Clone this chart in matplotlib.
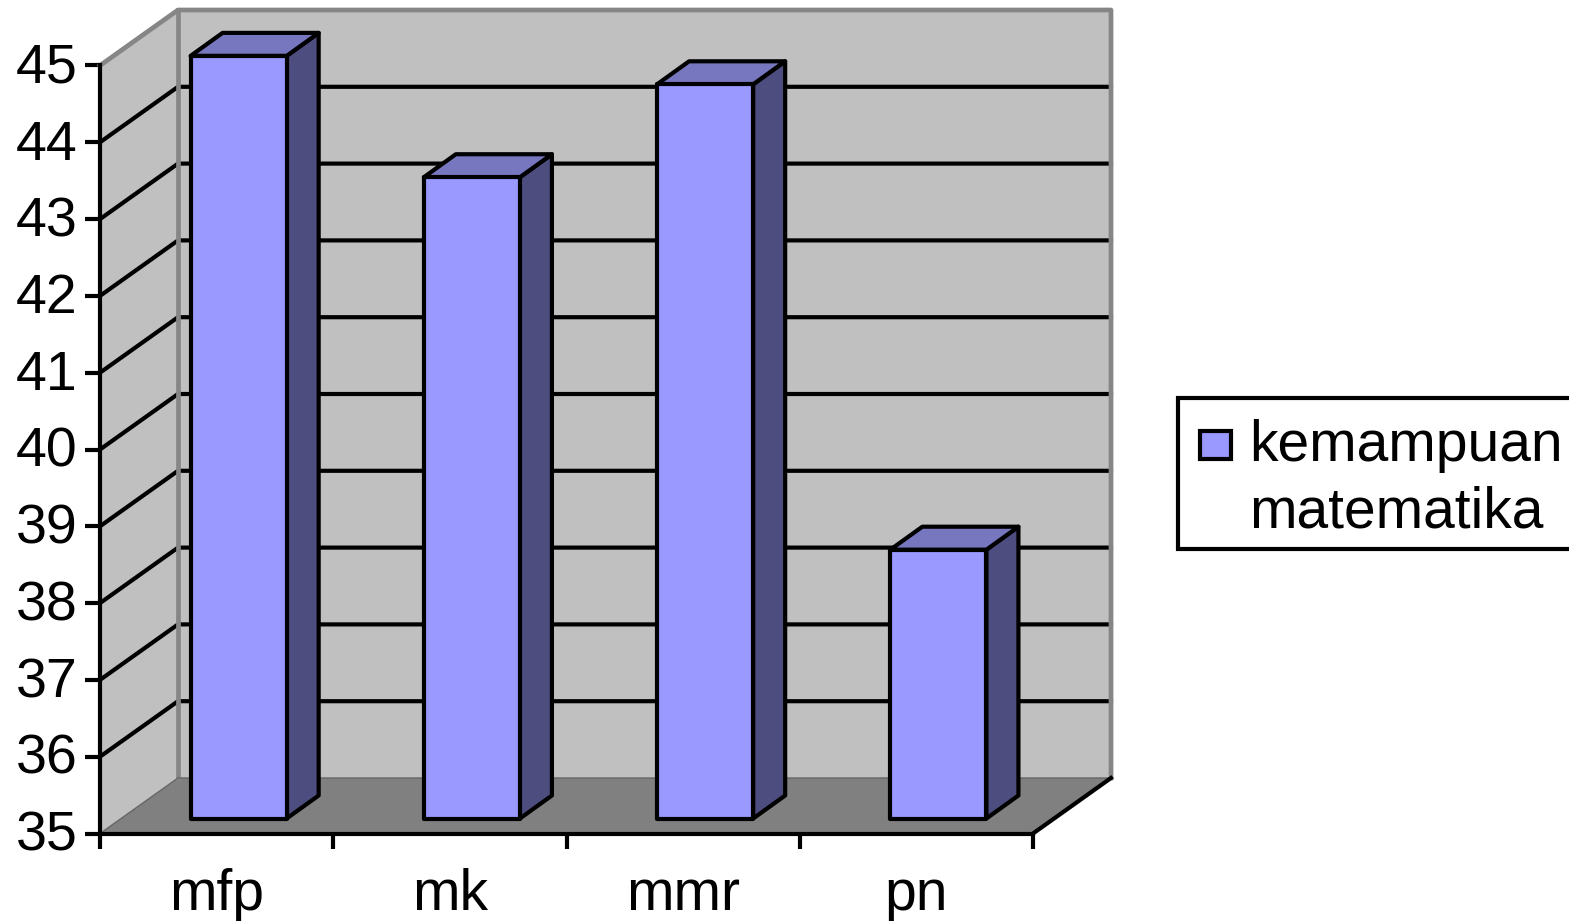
import matplotlib
matplotlib.use("Agg")
import matplotlib.pyplot as plt
from matplotlib.patches import Polygon, Rectangle
from matplotlib.transforms import Affine2D, ScaledTranslation

categories = ["mfp", "mk", "mmr", "pn"]
values = [44.93, 43.35, 44.56, 38.5]
y_ticks = list(range(35, 46))
legend_lines = ["kemampuan", "matematika"]

FRONT, SIDE, TOP = "#9999FF", "#4D4D80", "#7777BF"
WALL, FLOOR, EDGE = "#C0C0C0", "#808080", "#868686"
LW = 3.0
W, H = 1569, 921

plt.rcParams["font.family"] = ["Liberation Sans", "DejaVu Sans"]
fig = plt.figure(figsize=(W / 100, H / 100), dpi=100)
ax = fig.add_axes([100 / W, (H - 833.5) / H, 933 / W, 768 / H])
ax.set_xlim(0, len(categories))
ax.set_ylim(y_ticks[0], y_ticks[-1])

# pixel-to-data scales for the oblique depth of the 3D look
px_x = len(categories) / 933
px_y = (y_ticks[-1] - y_ticks[0]) / 768
wall_dx, wall_dy = 78 * px_x, 55.5 * px_y
bar_dx, bar_dy = 22 * px_x, 15 * px_y
bar_depth_x, bar_depth_y = 32 * px_x, 23 * px_y
bar_width = 0.412

x0, x1 = 0, len(categories)
y0, y1 = y_ticks[0], y_ticks[-1]


def poly(points, **kw):
    ax.add_patch(Polygon(points, closed=True, clip_on=False, **kw))


# walls and floor
poly([(x0, y0), (x0 + wall_dx, y0 + wall_dy), (x0 + wall_dx, y1 + wall_dy), (x0, y1)],
     facecolor=WALL, edgecolor="none", zorder=1)
poly([(x0 + wall_dx, y0 + wall_dy), (x1 + wall_dx, y0 + wall_dy),
      (x1 + wall_dx, y1 + wall_dy), (x0 + wall_dx, y1 + wall_dy)],
     facecolor=WALL, edgecolor="none", zorder=1)
poly([(x0, y0), (x1, y0), (x1 + wall_dx, y0 + wall_dy), (x0 + wall_dx, y0 + wall_dy)],
     facecolor=FLOOR, edgecolor="none", zorder=2)

# gridlines along side wall and back wall
for v in y_ticks[1:-1]:
    ax.plot([x0, x0 + wall_dx, x1 + wall_dx], [v, v + wall_dy, v + wall_dy],
            color="black", lw=LW, zorder=2, clip_on=False, solid_joinstyle="round")

# wall outline
ax.plot([x0, x0 + wall_dx, x1 + wall_dx, x1 + wall_dx], [y1, y1 + wall_dy, y1 + wall_dy, y0 + wall_dy],
        color=EDGE, lw=3.4, zorder=3, clip_on=False, solid_joinstyle="round")
ax.plot([x0 + wall_dx, x0 + wall_dx], [y0 + wall_dy, y1 + wall_dy],
        color=EDGE, lw=3.4, zorder=3, clip_on=False)
ax.plot([x0, x0 + wall_dx, x1 + wall_dx], [y0, y0 + wall_dy, y0 + wall_dy],
        color="#666666", lw=1.0, zorder=3, clip_on=False)
ax.plot([x1, x1 + wall_dx], [y0, y0 + wall_dy], color="black", lw=LW, zorder=4, clip_on=False)

# bars
for i, v in enumerate(values):
    l = i + 0.5 - bar_width / 2 + bar_dx
    r = l + bar_width
    b = y0 + bar_dy
    t = v + bar_dy
    style = dict(edgecolor="black", linewidth=LW, joinstyle="round", zorder=5)
    poly([(r, b), (r + bar_depth_x, b + bar_depth_y), (r + bar_depth_x, t + bar_depth_y), (r, t)],
         facecolor=SIDE, **style)
    poly([(l, t), (r, t), (r + bar_depth_x, t + bar_depth_y), (l + bar_depth_x, t + bar_depth_y)],
         facecolor=TOP, **style)
    ax.bar(i + 0.5 + bar_dx, v - y0, bottom=b, width=bar_width, color=FRONT,
           edgecolor="black", linewidth=LW, zorder=6, clip_on=False, joinstyle="round")

# axes
for s in ("top", "right"):
    ax.spines[s].set_visible(False)
for s in ("left", "bottom"):
    ax.spines[s].set_linewidth(LW)
    ax.spines[s].set_zorder(7)
ax.patch.set_visible(False)
ax.set_yticks(y_ticks)
ax.set_yticklabels([str(v) for v in y_ticks])
ax.tick_params(axis="y", length=11, width=LW, pad=5, labelsize=40)
ax.set_xticks(range(len(categories) + 1))
ax.set_xticklabels([])
ax.tick_params(axis="x", which="major", length=11, width=LW)
ax.set_xticks([i + 0.5 for i in range(len(categories))], minor=True)
ax.set_xticklabels(categories, minor=True)
ax.tick_params(axis="x", which="minor", length=0, pad=25, labelsize=41)
shift = ScaledTranslation(0, 2 / 72, fig.dpi_scale_trans)
for lab in ax.get_yticklabels():
    lab.set_transform(lab.get_transform() + shift)

# legend (positions in image pixels)
pix = Affine2D().scale(1, -1).translate(0, H)
fig.add_artist(Rectangle((1178, 398), 420, 151, transform=pix, facecolor="white",
                         edgecolor="black", linewidth=LW))
fig.add_artist(Rectangle((1200, 431), 31, 28, transform=pix, facecolor=FRONT,
                         edgecolor="black", linewidth=LW))
for line, y in zip(legend_lines, (440, 506)):
    fig.text(1249, y, line, transform=pix, fontsize=41, va="center_baseline", ha="left")

fig.savefig("out.png", dpi=100)
